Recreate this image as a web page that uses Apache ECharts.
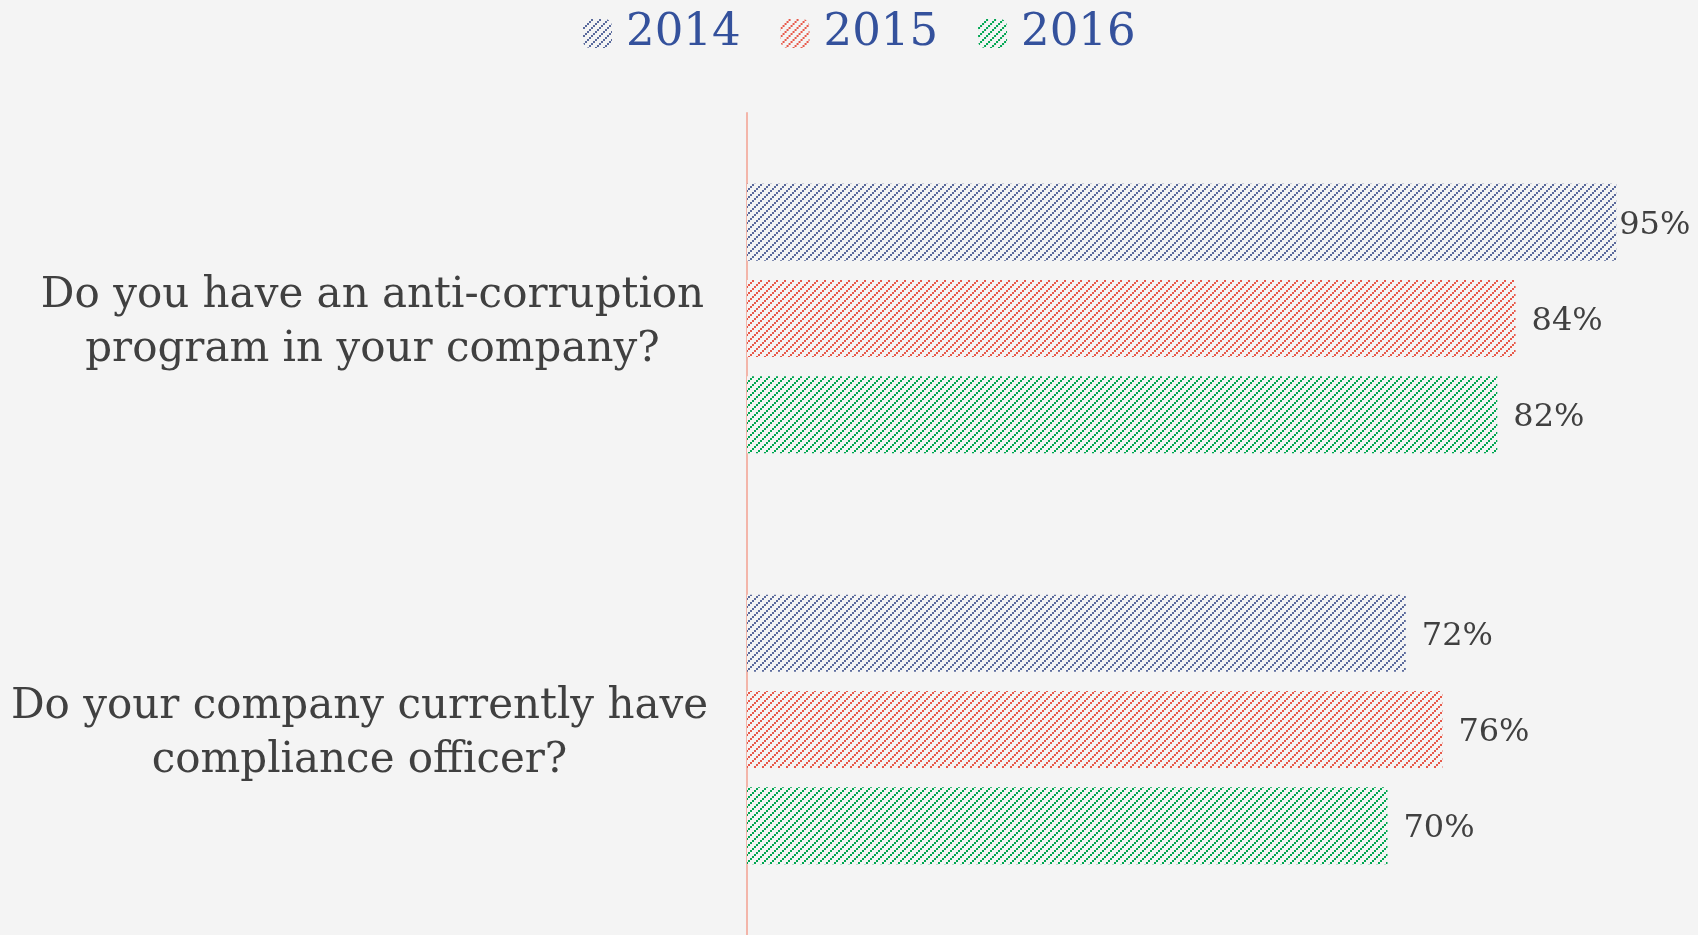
<!DOCTYPE html>
<html>
<head>
<meta charset="utf-8">
<script src="https://cdn.jsdelivr.net/npm/echarts@6/dist/echarts.min.js"></script>
<style>
  html, body { margin: 0; padding: 0; background: #f4f4f4; }
  #chart { width: 1698px; height: 935px; }
</style>
</head>
<body>
<div id="chart"></div>
<script>
const categories = [
  'Do you have an anti-corruption\nprogram in your company?',
  'Do your company currently have\ncompliance officer?'
]
const years = ['2014', '2015', '2016']
const values2014 = [95, 72]
const values2015 = [84, 76]
const values2016 = [82, 70]

const serifFont = '"DejaVu Serif", Georgia, serif'
const bg = '#f4f4f4'

// small diagonal hatch tile, 2px steps
function makeHatch(color) {
  const c = document.createElement('canvas')
  c.width = 8
  c.height = 8
  const ctx = c.getContext('2d')
  ctx.fillStyle = bg
  ctx.fillRect(0, 0, 8, 8)
  ctx.fillStyle = color
  for (let i = 0; i < 4; i++) {
    for (let j = 0; j < 4; j++) {
      if ((i + j) % 4 === 0) ctx.fillRect(i * 2, j * 2, 2, 2)
    }
  }
  return { image: c, repeat: 'repeat' }
}

const colors = ['#5a6a9c', '#e8594a', '#00a651']

function buildSeries(name, values, color) {
  return {
    name,
    type: 'bar',
    barWidth: 77,
    barGap: '25%',
    itemStyle: { color: makeHatch(color) },
    label: {
      show: true,
      position: 'right',
      distance: 16,
      offset: [0, 3],
      formatter: '{c}%',
      color: '#404040',
      fontFamily: serifFont,
      fontSize: 32
    },
    data: values.map(v => v > 90 ? { value: v, label: { distance: 3 } } : v)
  }
}

const labelText = {
  color: '#404040',
  fontFamily: serifFont,
  fontSize: 42,
  lineHeight: 54
}

const chart = echarts.init(document.getElementById('chart'))

chart.setOption({
  backgroundColor: bg,
  animation: false,
  legend: {
    top: 6,
    left: 578,
    itemWidth: 29,
    itemHeight: 29,
    itemGap: 40,
    textStyle: {
      color: '#34519c',
      fontFamily: serifFont,
      fontSize: 45,
      padding: [0, 0, 0, 9]
    },
    data: years
  },
  grid: {
    left: 747, right: 36, top: 113, bottom: 0,
    containLabel: false,
    outerBoundsMode: 'none'
  },
  xAxis: { type: 'value', min: 0, max: 100, show: false },
  yAxis: {
    type: 'category',
    inverse: true,
    data: categories,
    axisLine: { lineStyle: { color: '#f3b5a9', width: 2 } },
    axisTick: { show: false },
    axisLabel: {
      margin: 382,
      align: 'center',
      padding: [10, 0, 0, 0],
      ...labelText,
      // the two wrapped labels sit slightly off-centre from each other
      formatter: (value, idx) => '{q' + idx + '|' + value + '}',
      rich: {
        q0: { ...labelText, padding: [0, 0, 0, 15] },
        q1: { ...labelText, padding: [0, 11, 0, 0] }
      }
    }
  },
  series: [
    buildSeries(years[0], values2014, colors[0]),
    buildSeries(years[1], values2015, colors[1]),
    buildSeries(years[2], values2016, colors[2])
  ]
})
</script>
</body>
</html>
